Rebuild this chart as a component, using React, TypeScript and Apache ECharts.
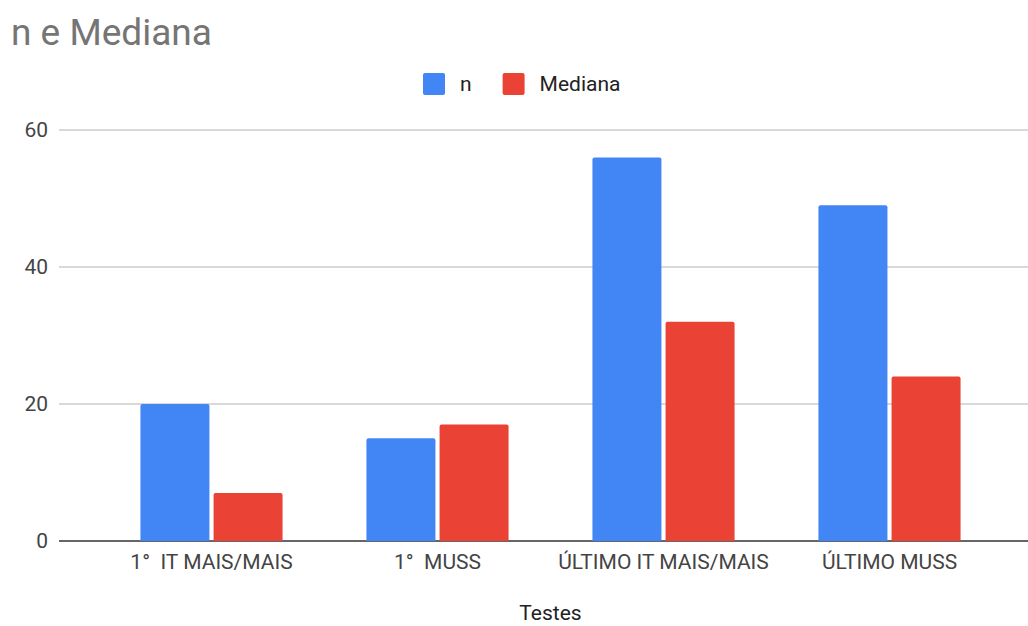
import React, { useEffect, useRef } from "react";
import * as echarts from "echarts";

const categories = ["1°  IT MAIS/MAIS", "1°  MUSS", "ÚLTIMO IT MAIS/MAIS", "ÚLTIMO MUSS"];
const nValues = [20, 15, 56, 49];
const medianaValues = [7, 17, 32, 24];
const yTicks = { min: 0, max: 60, interval: 20 };

const FONT = "Roboto";

export default function App() {
  const ref = useRef<HTMLDivElement>(null);
  useEffect(() => {
    if (!ref.current) return;
    const chart = echarts.init(ref.current, null, { renderer: "svg" });
    chart.setOption({
      animation: false,
      backgroundColor: "#ffffff",
      textStyle: { fontFamily: FONT },
      title: {
        text: "n e Mediana",
        left: 6,
        top: 9,
        textStyle: { fontFamily: FONT, fontSize: 37, fontWeight: "normal", color: "#757575" },
      },
      legend: {
        left: 423,
        top: 73,
        padding: 0,
        itemWidth: 22,
        itemHeight: 22,
        itemGap: 31,
        icon: "path://M2,0 L20,0 Q22,0 22,2 L22,20 Q22,22 20,22 L2,22 Q0,22 0,20 L0,2 Q0,0 2,0 Z",
        textStyle: { fontFamily: FONT, fontSize: 21, color: "#222222", padding: [0, 0, 0, 10] },
        data: ["n", "Mediana"],
      },
      grid: [
        { left: 98.5, right: 25.5, top: 130, bottom: 85, outerBoundsMode: "none" },
        { left: 59, right: 0, top: 130, bottom: 85, outerBoundsMode: "none" },
      ],
      xAxis: [
        {
          type: "category",
          gridIndex: 0,
          data: categories,
          axisLine: { show: false },
          axisTick: { show: false },
          axisLabel: { fontFamily: FONT, fontSize: 21, color: "#444444", margin: 10, interval: 0 },
          name: "Testes",
          nameLocation: "middle",
          nameGap: 61,
          nameTextStyle: { fontFamily: FONT, fontSize: 21, color: "#222222" },
        },
        { type: "value", gridIndex: 1, show: false, min: 0, max: 1 },
      ],
      yAxis: [
        {
          type: "value",
          gridIndex: 0,
          min: yTicks.min,
          max: yTicks.max,
          interval: yTicks.interval,
          axisLabel: { show: false },
          axisLine: { show: false },
          axisTick: { show: false },
          splitLine: { show: false },
        },
        {
          type: "value",
          gridIndex: 1,
          min: yTicks.min,
          max: yTicks.max,
          interval: yTicks.interval,
          axisLine: { show: false },
          axisTick: { show: false },
          axisLabel: { fontFamily: FONT, fontSize: 21, color: "#444444", margin: 11 },
          splitLine: {
            show: true,
            lineStyle: { color: ["#333333", "#cccccc", "#cccccc", "#cccccc"], width: 1.5 },
          },
        },
      ],
      series: [
        {
          name: "n",
          type: "bar",
          xAxisIndex: 0,
          yAxisIndex: 0,
          data: nValues,
          barWidth: 69,
          barGap: "6%",
          itemStyle: { color: "#4285F4", borderRadius: [2, 2, 0, 0] },
        },
        {
          name: "Mediana",
          type: "bar",
          xAxisIndex: 0,
          yAxisIndex: 0,
          data: medianaValues,
          barWidth: 69,
          barGap: "6%",
          itemStyle: { color: "#EA4335", borderRadius: [2, 2, 0, 0] },
        },
      ],
    });
    return () => chart.dispose();
  }, []);
  return <div ref={ref} style={{ width: 1028, height: 626, position: "absolute", left: 0, top: 0 }} />;
}
